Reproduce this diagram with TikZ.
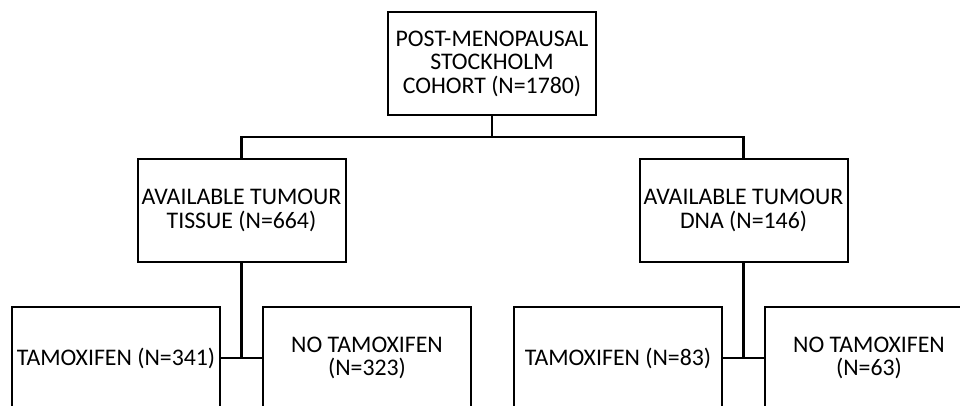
\documentclass[tikz,border=0pt]{standalone}
\usepackage{fontspec}
\setmainfont{Carlito}
\begin{document}
\begin{tikzpicture}[x=1pt,y=-1pt,
  box/.style={draw, line width=2pt, rectangle, minimum width=208pt, minimum height=103pt,
    inner sep=0pt, align=center, font=\fontsize{23.8}{23.5}\selectfont},
  conn/.style={line width=2.4pt}]
\useasboundingbox (0,0) rectangle (960,406);
\clip (0,0) rectangle (960,406);
\node[box] (top) at (492,63.5) {POST-MENOPAUSAL\\STOCKHOLM\\COHORT (N=1780)};
\node[box] (tis) at (241.5,210.5) {AVAILABLE TUMOUR\\TISSUE (N=664)};
\node[box] (dna) at (743.5,210.5) {AVAILABLE TUMOUR\\DNA (N=146)};
\node[box] (t1) at (116,358) {TAMOXIFEN (N=341)};
\node[box] (n1) at (367,358) {NO TAMOXIFEN\\(N=323)};
\node[box] (t2) at (618,358) {TAMOXIFEN (N=83)};
\node[box] (n2) at (869,358) {NO TAMOXIFEN\\(N=63)};
\coordinate (split) at (492,137);
\draw[conn] (top.south) -- (split);
\draw[conn] (tis.north) -- (tis.north |- split) -- (dna.north |- split) -- (dna.north);
\draw[conn] (tis.south) -- (tis.south |- t1.east);
\draw[conn] (t1.east) -- (n1.west);
\draw[conn] (dna.south) -- (dna.south |- t2.east);
\draw[conn] (t2.east) -- (n2.west);
\end{tikzpicture}
\end{document}
